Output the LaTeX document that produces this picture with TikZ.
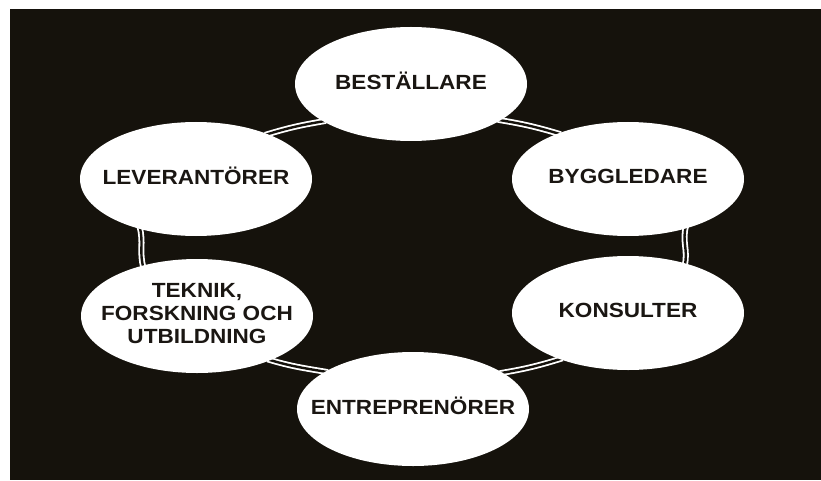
\documentclass[tikz,border=0pt]{standalone}
\usepackage{fontspec}
\newfontfamily\labfont{Liberation Sans}[FakeStretch=1.1]
\usetikzlibrary{shapes.geometric}
\definecolor{bg}{RGB}{21,18,12}
\definecolor{ink}{RGB}{26,22,18}
\newcommand\zw[1]{\makebox[0pt]{\begin{tabular}{@{}c@{}}#1\end{tabular}}}
\pgfdeclarelayer{back}
\pgfsetlayers{back,main}
\begin{document}
\begin{tikzpicture}[x=1pt,y=1pt,
  ell/.style={ellipse, fill=white, inner sep=0pt, minimum width=232pt, minimum height=114pt,
    font=\labfont\bfseries\fontsize{20.5}{23}\selectfont, text=ink},
  ring/.style={draw=white, line width=1.8pt, double=bg, double distance=2.4pt,
    shorten <=-3pt, shorten >=-3pt}]
\useasboundingbox (0,0) rectangle (821,480);
\node[ell] (B)  at (411,396) {\zw{BESTÄLLARE}};
\node[ell] (BY) at (628,301) {\zw{BYGGLEDARE}};
\node[ell] (K)  at (628,167) {\zw{KONSULTER}};
\node[ell] (E)  at (413,71)  {\zw{ENTREPRENÖRER}};
\node[ell] (T)  at (197,164) {\zw{TEKNIK,\\FORSKNING OCH\\UTBILDNING}};
\node[ell] (L)  at (196,301) {\zw{LEVERANTÖRER}};
\begin{pgfonlayer}{back}
\fill[white] (0,0) rectangle (821,480);
\fill[bg] (10,0) rectangle (821,471);
\draw[ring] (B.-22.6) to[out=-9.2, in=163.3] (BY.147.5);
\draw[ring] (BY.-41.5) to[out=-105.8, in=75.7] (K.41.2);
\draw[ring] (K.214.3) to[out=197.2, in=9.5] (E.22.05);
\draw[ring] (E.157.9) to[out=170.5, in=-16.6] (T.-31.4);
\draw[ring] (T.137.7) to[out=106.3, in=-74.6] (L.222.7);
\draw[ring] (L.32) to[out=16.9, in=189.5] (B.-157);
\end{pgfonlayer}
\end{tikzpicture}
\end{document}
